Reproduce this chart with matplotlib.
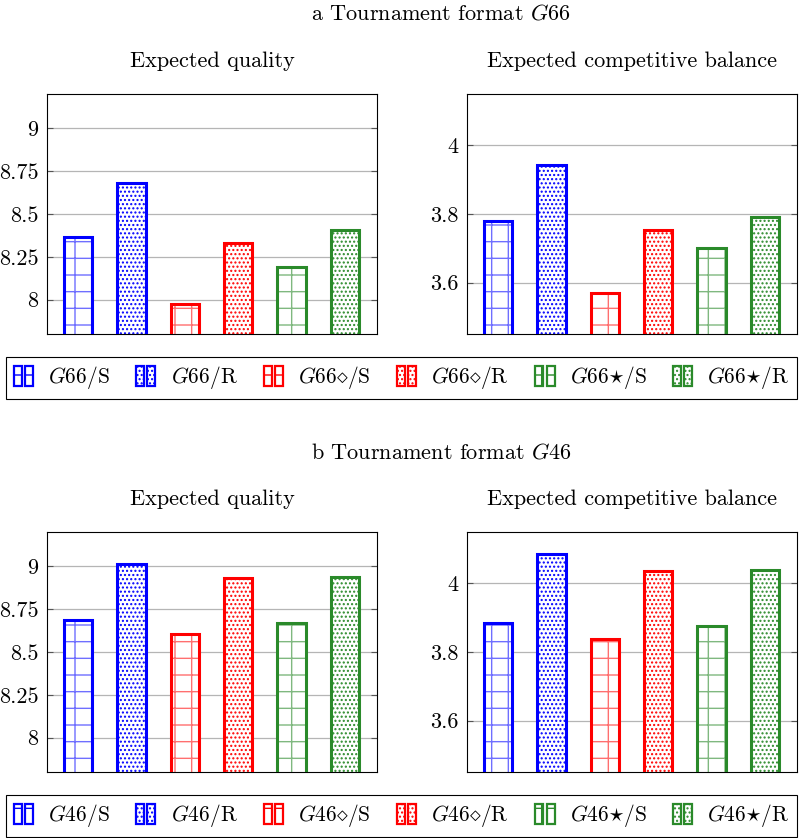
import matplotlib
matplotlib.use('Agg')
import matplotlib.pyplot as plt
from matplotlib.patches import Rectangle
from matplotlib.legend_handler import HandlerTuple

plt.rcParams['font.family'] = 'serif'
plt.rcParams['font.serif'] = ['cmr10']
plt.rcParams['mathtext.fontset'] = 'cm'
plt.rcParams['axes.formatter.use_mathtext'] = True
plt.rcParams['hatch.linewidth'] = 1.0

# data
labels_a = ['$G$66/S', '$G$66/R', '$G$66$\\diamond$/S', '$G$66$\\diamond$/R',
            '$G$66$\\star$/S', '$G$66$\\star$/R']
labels_b = ['$G$46/S', '$G$46/R', '$G$46$\\diamond$/S', '$G$46$\\diamond$/R',
            '$G$46$\\star$/S', '$G$46$\\star$/R']
quality_a = [8.364, 8.683, 7.977, 8.329, 8.189, 8.409]
balance_a = [3.780, 3.943, 3.570, 3.752, 3.700, 3.792]
quality_b = [8.685, 9.012, 8.605, 8.934, 8.671, 8.936]
balance_b = [3.884, 4.086, 3.838, 4.037, 3.875, 4.040]

quality_ticks = [8, 8.25, 8.5, 8.75, 9]
quality_ticklabels = ['8', '8.25', '8.5', '8.75', '9']
balance_ticks = [3.6, 3.8, 4.0]
balance_ticklabels = ['3.6', '3.8', '4']

colors = ['#0000ff', '#0000ff', '#ff0000', '#ff0000', '#2a8a2a', '#2a8a2a']
light = ['#6f6fff', '#0000ff', '#ff6f6f', '#ff0000', '#7fb87f', '#2a8a2a']
hatches = ['+', '....', '+', '....', '+', '....']

fig = plt.figure(figsize=(8, 8.38), dpi=100)
H = 838.0


def panel(left_px, top_px, values, ylim, ticks, ticklabels):
    ax = fig.add_axes([left_px / 800, 1 - (top_px + 240) / H, 330 / 800, 240 / H])
    xs = list(range(1, len(values) + 1))
    for x, v, c, lc, h in zip(xs, values, colors, light, hatches):
        # hatch layer in a lighter tint, then the full-colour outline on top
        ax.bar(x, v, width=0.53, color='white', edgecolor=lc, hatch=h,
               linewidth=0, zorder=2)
        ax.bar(x, v, width=0.53, fill=False, edgecolor=c, linewidth=2.2,
               zorder=3)
    ax.set_xlim(0.42, 6.6)
    ax.set_ylim(*ylim)
    ax.set_xticks([])
    ax.set_yticks(ticks)
    ax.set_yticklabels(ticklabels)
    ax.yaxis.grid(True, color='#b5b5b5', linewidth=0.9, zorder=0)
    ax.set_axisbelow(True)
    ax.tick_params(axis='y', direction='in', left=True, right=True, length=4,
                   color='#555555', labelsize=16, pad=6)
    for s in ax.spines.values():
        s.set_linewidth(0.8)
    return ax


def legend(top_px, labels):
    handles = []
    for c, h in zip(colors, hatches):
        p = Rectangle((0, 0), 1, 1, facecolor='white', edgecolor=c, hatch=h,
                      linewidth=1.6)
        handles.append((p, p))
    lg = fig.legend(handles, labels, ncol=6, mode='expand', loc='lower left',
                    bbox_to_anchor=(6 / 800, 1 - (top_px + 40) / H, 791 / 800, 40 / H),
                    handler_map={tuple: HandlerTuple(ndivide=None, pad=0.15)},
                    handlelength=0.9, handleheight=1.0, handletextpad=0.7,
                    borderaxespad=0, fancybox=False, edgecolor='black',
                    framealpha=1, fontsize=15.5, borderpad=0.35)
    lg.get_frame().set_linewidth(0.8)


for off, tag, labels, q, b in [(0, 'a Tournament format $G$66', labels_a, quality_a, balance_a),
                               (438, 'b Tournament format $G$46', labels_b, quality_b, balance_b)]:
    fig.text(311 / 800, 1 - (20 + off) / H, tag, ha='left', va='baseline', fontsize=16)
    fig.text((47 + 165) / 800, 1 - (67 + off) / H, 'Expected quality',
             ha='center', va='baseline', fontsize=16)
    fig.text((467 + 165) / 800, 1 - (67 + off) / H, 'Expected competitive balance',
             ha='center', va='baseline', fontsize=16)
    panel(47, 94 + off, q, (7.8, 9.2), quality_ticks, quality_ticklabels)
    panel(467, 94 + off, b, (3.45, 4.15), balance_ticks, balance_ticklabels)
    legend(359 + off, labels)

fig.savefig('out.png', dpi=100)
